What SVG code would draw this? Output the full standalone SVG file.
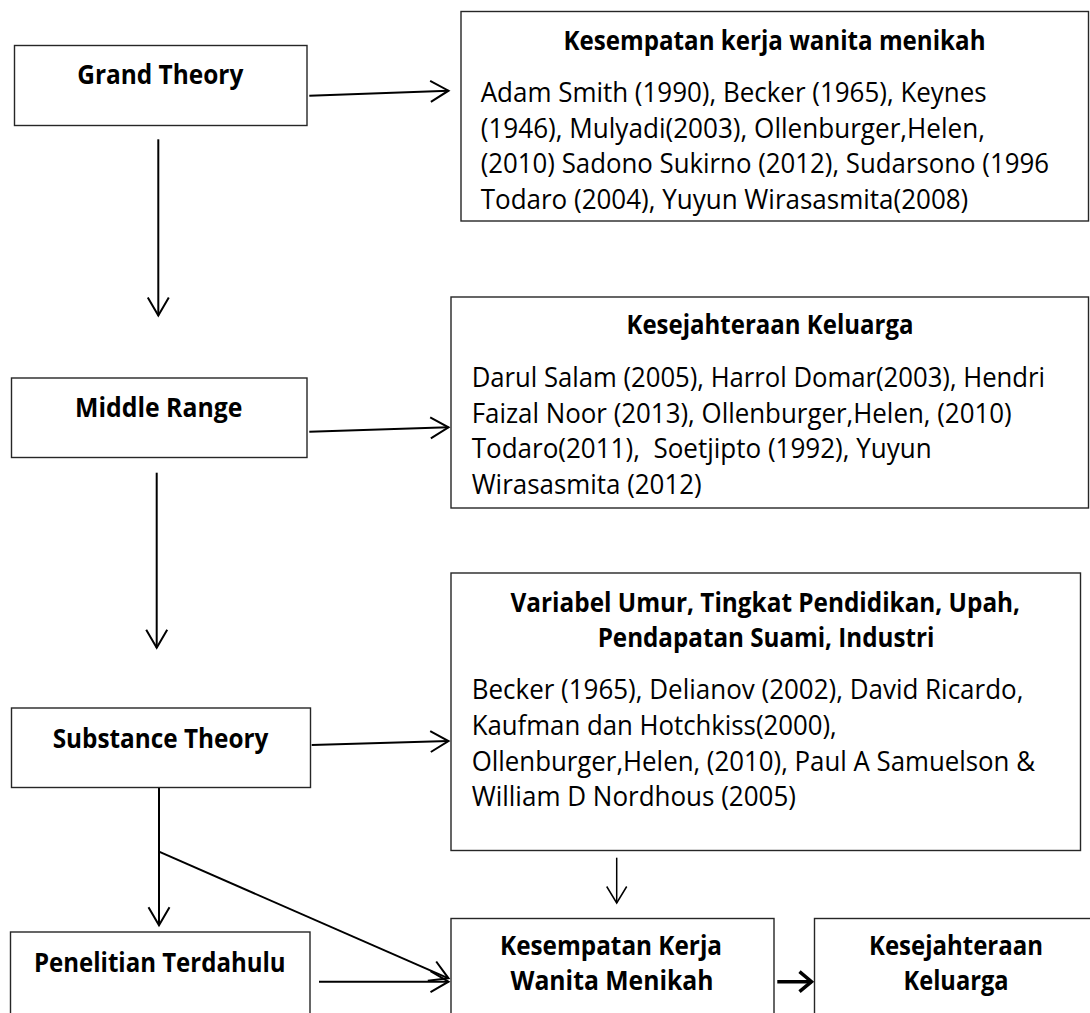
<svg xmlns="http://www.w3.org/2000/svg" width="1090" height="1013" viewBox="0 0 1090 1013">
<style>
  .box { fill: #ffffff; stroke: #262626; stroke-width: 1.4; }
  .t { font-family: "Open Sans", "Liberation Sans", sans-serif; font-size: 26.5px; fill: #000; }
  .b { font-weight: 700; }
  .c { text-anchor: middle; }
  .ln { fill: none; stroke: #000; stroke-width: 2; }
  .thin { fill: none; stroke: #000; stroke-width: 1.5; }
  .bold { fill: none; stroke: #000; stroke-width: 3.5; }
</style>
<defs>
  <marker id="arr" markerUnits="userSpaceOnUse" orient="auto" refX="0" refY="0" markerWidth="44" markerHeight="44" viewBox="-22 -22 44 44" overflow="visible">
    <path d="M-18,-10.5 L0,0 L-18,10.5" fill="none" stroke="#000" stroke-width="2" stroke-linejoin="miter"/>
  </marker>
  <marker id="arrThin" markerUnits="userSpaceOnUse" orient="auto" refX="0" refY="0" markerWidth="44" markerHeight="44" viewBox="-22 -22 44 44" overflow="visible">
    <path d="M-16.5,-10 L0,0 L-16.5,10" fill="none" stroke="#000" stroke-width="1.5"/>
  </marker>
  <marker id="arrBold" markerUnits="userSpaceOnUse" orient="auto" refX="0" refY="0" markerWidth="44" markerHeight="44" viewBox="-22 -22 44 44" overflow="visible">
    <path d="M-12,-10 L0,0 L-12,10" fill="none" stroke="#000" stroke-width="3.5"/>
  </marker>
</defs>
<rect width="1090" height="1013" fill="#ffffff"/>

<g id="connectors">
  <line class="ln" x1="309.3" y1="95.7" x2="448.5" y2="90.7" marker-end="url(#arr)"/>
  <line class="ln" x1="158.3" y1="139.3" x2="158.3" y2="315.5" marker-end="url(#arr)"/>
  <line class="ln" x1="309.3" y1="431.7" x2="448.5" y2="427.3" marker-end="url(#arr)"/>
  <line class="ln" x1="156.7" y1="472.7" x2="156.7" y2="647.8" marker-end="url(#arr)"/>
  <line class="ln" x1="311.7" y1="745" x2="448.5" y2="741" marker-end="url(#arr)"/>
  <line class="ln" x1="159" y1="787.3" x2="159" y2="925.2" marker-end="url(#arr)"/>
  <line class="ln" x1="159" y1="851.7" x2="448.5" y2="978.3" marker-end="url(#arr)"/>
  <line class="ln" x1="319" y1="981.7" x2="448.5" y2="981.7" marker-end="url(#arr)"/>
  <line class="thin" x1="616.7" y1="857.7" x2="616.7" y2="903" marker-end="url(#arrThin)"/>
  <line class="bold" x1="777.3" y1="981.7" x2="811.5" y2="981.7" marker-end="url(#arrBold)"/>
</g>

<g id="grand-theory">
  <rect class="box" x="14.5" y="45.5" width="292.5" height="80"/>
  <text class="t b c" x="160.3" y="84" textLength="166" lengthAdjust="spacingAndGlyphs">Grand Theory</text>
</g>

<g id="kesempatan-kerja-teori">
  <rect class="box" x="461" y="11.5" width="627.5" height="209.5"/>
  <text class="t b c" x="774.5" y="49.5" textLength="422" lengthAdjust="spacingAndGlyphs">Kesempatan kerja wanita menikah</text>
  <text class="t" x="480.7" y="102" textLength="506" lengthAdjust="spacingAndGlyphs">Adam Smith (1990), Becker (1965), Keynes</text>
  <text class="t" x="480.7" y="137.5" textLength="504.3" lengthAdjust="spacingAndGlyphs">(1946), Mulyadi(2003), Ollenburger,Helen,</text>
  <text class="t" x="480.7" y="173" textLength="568.3" lengthAdjust="spacingAndGlyphs">(2010) Sadono Sukirno (2012), Sudarsono (1996</text>
  <text class="t" x="480.7" y="208.5" textLength="487.6" lengthAdjust="spacingAndGlyphs">Todaro (2004), Yuyun Wirasasmita(2008)</text>
</g>

<g id="middle-range">
  <rect class="box" x="11.5" y="378" width="295.5" height="79.5"/>
  <text class="t b c" x="158.7" y="416.5" textLength="167.3" lengthAdjust="spacingAndGlyphs">Middle Range</text>
</g>

<g id="kesejahteraan-teori">
  <rect class="box" x="451" y="297" width="637.5" height="211"/>
  <text class="t b c" x="770" y="334.3" textLength="287" lengthAdjust="spacingAndGlyphs">Kesejahteraan Keluarga</text>
  <text class="t" x="471.7" y="387" textLength="573.3" lengthAdjust="spacingAndGlyphs">Darul Salam (2005), Harrol Domar(2003), Hendri</text>
  <text class="t" x="471.7" y="422.5" textLength="540" lengthAdjust="spacingAndGlyphs">Faizal Noor (2013), Ollenburger,Helen, (2010)</text>
  <text class="t" x="471.7" y="458" textLength="460" lengthAdjust="spacingAndGlyphs" xml:space="preserve">Todaro(2011),  Soetjipto (1992), Yuyun</text>
  <text class="t" x="471.7" y="493.5" textLength="230" lengthAdjust="spacingAndGlyphs">Wirasasmita (2012)</text>
</g>

<g id="substance-theory">
  <rect class="box" x="11.5" y="708" width="299" height="79.5"/>
  <text class="t b c" x="160.5" y="747.5" textLength="215.7" lengthAdjust="spacingAndGlyphs">Substance Theory</text>
</g>

<g id="variabel">
  <rect class="box" x="451" y="573" width="629.5" height="277.5"/>
  <text class="t b c" x="765.3" y="611.5" textLength="509.5" lengthAdjust="spacingAndGlyphs">Variabel Umur, Tingkat Pendidikan, Upah,</text>
  <text class="t b c" x="766" y="647" textLength="336.6" lengthAdjust="spacingAndGlyphs">Pendapatan Suami, Industri</text>
  <text class="t" x="471.7" y="699" textLength="551.7" lengthAdjust="spacingAndGlyphs">Becker (1965), Delianov (2002), David Ricardo,</text>
  <text class="t" x="471.7" y="735" textLength="365" lengthAdjust="spacingAndGlyphs">Kaufman dan Hotchkiss(2000),</text>
  <text class="t" x="471.7" y="770.5" textLength="563.3" lengthAdjust="spacingAndGlyphs">Ollenburger,Helen, (2010), Paul A Samuelson &amp;</text>
  <text class="t" x="471.7" y="805.7" textLength="324.3" lengthAdjust="spacingAndGlyphs">William D Nordhous (2005)</text>
</g>

<g id="penelitian-terdahulu">
  <rect class="box" x="10.5" y="932" width="299.5" height="110"/>
  <text class="t b c" x="159.8" y="971.5" textLength="251.7" lengthAdjust="spacingAndGlyphs">Penelitian Terdahulu</text>
</g>

<g id="kesempatan-kerja">
  <rect class="box" x="451" y="918.5" width="323" height="120"/>
  <text class="t b c" x="611" y="955" textLength="222" lengthAdjust="spacingAndGlyphs">Kesempatan Kerja</text>
  <text class="t b c" x="612" y="990" textLength="203" lengthAdjust="spacingAndGlyphs">Wanita Menikah</text>
</g>

<g id="kesejahteraan-keluarga">
  <rect class="box" x="814.5" y="918.5" width="283.5" height="120"/>
  <text class="t b c" x="956" y="955" textLength="174" lengthAdjust="spacingAndGlyphs">Kesejahteraan</text>
  <text class="t b c" x="956" y="990" textLength="105" lengthAdjust="spacingAndGlyphs">Keluarga</text>
</g>
</svg>
